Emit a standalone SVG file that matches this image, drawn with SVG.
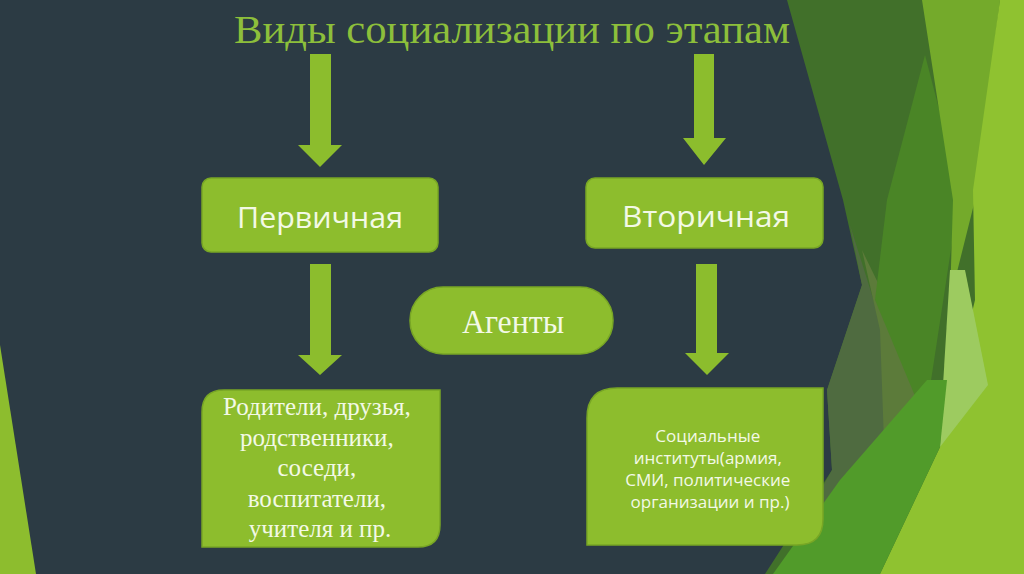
<svg xmlns="http://www.w3.org/2000/svg" width="1024" height="574" viewBox="0 0 1024 574">
<style>
.box{fill:#8dbd2d;stroke:#78a625;stroke-width:1.5}
.arrow{fill:#8cbd2d}
.sans{font-family:"Open Sans","Noto Sans","DejaVu Sans",sans-serif;fill:#f3f9e6}
.serif{font-family:"Liberation Serif","DejaVu Serif",serif;fill:#f3f9e6}
</style>
<g id="background">
<rect x="0" y="0" width="1024" height="574" fill="#2c3b44"/>
<polygon points="0,345 36,574 0,574" fill="#8dbd2e"/>
<polygon points="787,0 1024,0 1024,574 765,574 832,470 827,390 862,285 843,200" fill="#41702a"/>
<polygon points="850,225 905,400 885,480 790,545 832,470 827,390 862,285" fill="#4f6b40"/>
<polygon points="862,250 930,390 925,415 885,470 880,330" fill="#5c7b3a"/>
<polygon points="925,55 887,200 875,300 925,420 960,190" fill="#4a8526"/>
<polygon points="922,0 1000,0 975,200 950,300 953,200" fill="#74aa2b"/>
<polygon points="1000,0 1024,0 1024,574 880,574 940,447 975,300 973,190" fill="#8fc230"/>
<polygon points="950,270 965,270 988,385 940,447 943,385" fill="#9dcb60"/>
<polygon points="773,574 880,574 940,447 947,380 927,380 840,480" fill="#519b2a"/>
</g>
<g id="title">
<text x="512" y="43" text-anchor="middle" font-family="Liberation Serif, DejaVu Serif, serif" font-size="40" fill="#8dbf3b" textLength="556" lengthAdjust="spacingAndGlyphs">Виды социализации по этапам</text>
</g>
<g id="connectors">
<polygon class="arrow" points="310,54 331,54 331,145 342,145 320,167 298,145 310,145"/>
<polygon class="arrow" points="694,54 714,54 714,138 726,138 704,165 683,138 694,138"/>
<polygon class="arrow" points="310,264 331,264 331,355 342,355 320,375 298,355 310,355"/>
<polygon class="arrow" points="696,264 717,264 717,353 729,353 707,375 685,353 696,353"/>
</g>
<g id="primary">
<rect class="box" x="202" y="178" width="236" height="74" rx="9"/>
<text class="sans" x="320" y="228" text-anchor="middle" font-size="30" textLength="166" lengthAdjust="spacingAndGlyphs">Первичная</text>
</g>
<g id="secondary">
<rect class="box" x="586" y="178" width="237" height="70" rx="9"/>
<text class="sans" x="706" y="227" text-anchor="middle" font-size="30" textLength="168" lengthAdjust="spacingAndGlyphs">Вторичная</text>
</g>
<g id="agents">
<rect class="box" x="410" y="287" width="203" height="67" rx="33"/>
<text class="serif" x="513" y="333" text-anchor="middle" font-size="34" textLength="102" lengthAdjust="spacingAndGlyphs">Агенты</text>
</g>
<g id="primary-agents">
<path class="box" d="M202,412 Q202,390 224,390 L440,390 L440,525 Q440,547 418,547 L202,547 Z"/>
<text class="serif" text-anchor="middle" font-size="25">
<tspan x="320" y="415">Родители, друзья,</tspan>
<tspan x="320" y="445.5">родственники,</tspan>
<tspan x="320" y="476">соседи,</tspan>
<tspan x="320" y="506.5">воспитатели,</tspan>
<tspan x="320" y="537">учителя и пр.</tspan>
</text>
</g>
<g id="secondary-agents">
<path class="box" d="M587,418 Q587,388 617,388 L823,388 L823,519 Q823,545 797,545 L587,545 Z"/>
<text class="sans" text-anchor="middle" font-size="17">
<tspan x="710" y="442">Социальные</tspan>
<tspan x="710" y="464">институты(армия,</tspan>
<tspan x="710" y="486">СМИ, политические</tspan>
<tspan x="710" y="508">организации и пр.)</tspan>
</text>
</g>
</svg>
